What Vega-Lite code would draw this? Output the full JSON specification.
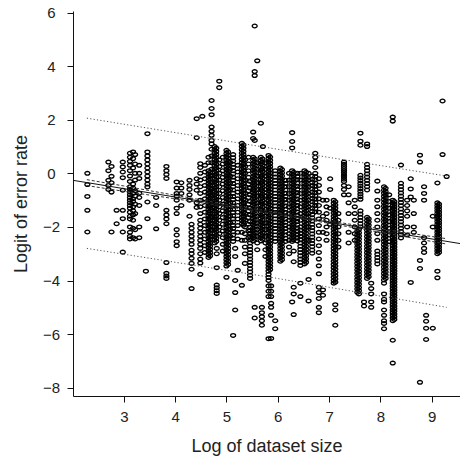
{
"$schema":"https://vega.github.io/schema/vega-lite/v6.json",
"width":387,"height":385,
"autosize":{"type":"none"},
"padding":{"left":73,"top":11,"right":0,"bottom":60},
"background":"white",
"config":{"view":{"stroke":null},"font":"Liberation Sans"},
"datasets":{
"pts":[
{"x":2.29,"y":0},{"x":2.29,"y":-0.42},{"x":2.29,"y":-0.86},{"x":2.29,"y":-1.38},{"x":2.29,"y":-2.19},
{"x":2.7,"y":0.42},{"x":2.7,"y":0.1},{"x":2.7,"y":-0.26},{"x":2.7,"y":-0.45},{"x":2.7,"y":-0.6},
{"x":2.76,"y":0.26},{"x":2.76,"y":-0.11},{"x":2.76,"y":-0.35},{"x":2.76,"y":-0.7},{"x":2.76,"y":-2.19},
{"x":2.86,"y":-1.38},{"x":2.86,"y":-1.88},
{"x":2.98,"y":0.42},{"x":2.98,"y":0.24},{"x":2.98,"y":0.05},{"x":2.98,"y":-0.16},{"x":2.98,"y":-0.63},{"x":2.98,"y":-1.38},{"x":2.98,"y":-1.69},{"x":2.98,"y":-2.19},{"x":2.98,"y":-2.94},
{"x":3.12,"y":0.75},{"x":3.12,"y":0.6},{"x":3.12,"y":0.45},{"x":3.12,"y":0.3},{"x":3.12,"y":0.1},{"x":3.12,"y":-0.1},{"x":3.12,"y":-0.3},{"x":3.12,"y":-0.5},{"x":3.12,"y":-0.6},{"x":3.12,"y":-0.7},{"x":3.12,"y":-0.8},{"x":3.12,"y":-0.9},{"x":3.12,"y":-1.0},{"x":3.12,"y":-1.1},{"x":3.12,"y":-1.2},{"x":3.12,"y":-1.3},{"x":3.12,"y":-1.45},{"x":3.12,"y":-1.6},{"x":3.12,"y":-1.7},{"x":3.12,"y":-2.0},{"x":3.12,"y":-2.2},{"x":3.12,"y":-2.35},{"x":3.12,"y":-2.45},
{"x":3.18,"y":0.8},{"x":3.18,"y":0.55},{"x":3.18,"y":0.2},{"x":3.18,"y":-0.4},{"x":3.18,"y":-0.55},{"x":3.18,"y":-0.75},{"x":3.18,"y":-0.95},{"x":3.18,"y":-1.05},{"x":3.18,"y":-1.25},{"x":3.18,"y":-1.4},{"x":3.18,"y":-1.55},{"x":3.18,"y":-1.75},{"x":3.18,"y":-2.05},{"x":3.18,"y":-2.4},
{"x":3.22,"y":0.7},{"x":3.22,"y":0.35},{"x":3.22,"y":0},{"x":3.22,"y":-0.25},{"x":3.22,"y":-0.65},{"x":3.22,"y":-0.85},{"x":3.22,"y":-1.15},{"x":3.22,"y":-1.5},{"x":3.22,"y":-2.1},{"x":3.22,"y":-2.45},
{"x":3.3,"y":0.3},{"x":3.3,"y":0},{"x":3.3,"y":-0.19},{"x":3.3,"y":-0.74},{"x":3.3,"y":-0.9},{"x":3.3,"y":-1.2},{"x":3.3,"y":-2.0},{"x":3.3,"y":-2.4},
{"x":3.46,"y":1.48},{"x":3.46,"y":0.8},{"x":3.46,"y":0.65},{"x":3.46,"y":0.5},{"x":3.46,"y":0.35},{"x":3.46,"y":0.2},{"x":3.46,"y":0.05},{"x":3.46,"y":-0.1},{"x":3.46,"y":-0.25},{"x":3.46,"y":-0.4},{"x":3.46,"y":-0.51},{"x":3.46,"y":-1.07},{"x":3.46,"y":-1.69},{"x":3.43,"y":-3.65},
{"x":3.63,"y":-0.9},{"x":3.63,"y":-1.2},{"x":3.63,"y":-2.07},
{"x":3.83,"y":0.26},{"x":3.83,"y":0.1},{"x":3.83,"y":-0.04},{"x":3.83,"y":-0.19},{"x":3.83,"y":-1.38},{"x":3.83,"y":-1.55},{"x":3.83,"y":-1.7},{"x":3.83,"y":-1.88},{"x":3.83,"y":-3.33},{"x":3.83,"y":-3.73},{"x":3.83,"y":-3.83},{"x":3.83,"y":-3.92},
{"x":4.03,"y":-0.32},{"x":4.03,"y":-0.55},{"x":4.03,"y":-0.75},{"x":4.03,"y":-0.85},{"x":4.03,"y":-1.0},{"x":4.03,"y":-1.3},{"x":4.03,"y":-1.5},{"x":4.03,"y":-2.1},{"x":4.03,"y":-2.3},{"x":4.03,"y":-2.55},{"x":4.03,"y":-2.7},
{"x":4.12,"y":-0.35},{"x":4.12,"y":-0.55},{"x":4.12,"y":-0.75},{"x":4.12,"y":-1.2},
{"x":4.28,"y":-0.26},{"x":4.28,"y":-0.45},{"x":4.28,"y":-0.6},{"x":4.28,"y":-0.8},{"x":4.28,"y":-1.0},{"x":4.28,"y":-1.6},
{"x":4.32,"y":-1.9},{"x":4.32,"y":-2.05},{"x":4.32,"y":-2.2},{"x":4.32,"y":-2.35},{"x":4.32,"y":-2.5},{"x":4.32,"y":-2.65},{"x":4.32,"y":-2.87},{"x":4.32,"y":-3.0},{"x":4.32,"y":-3.17},{"x":4.32,"y":-3.36},{"x":4.32,"y":-3.58},{"x":4.32,"y":-4.3},
{"x":4.42,"y":2.04},{"x":4.42,"y":1.33},{"x":4.42,"y":-0.2},{"x":4.42,"y":-0.4},{"x":4.42,"y":-0.63},{"x":4.42,"y":-1.1},{"x":4.42,"y":-1.27},
{"x":4.49,"y":0.36},{"x":4.49,"y":0.22},{"x":4.49,"y":0},{"x":4.49,"y":-0.25},{"x":4.49,"y":-0.5},{"x":4.49,"y":-0.75},{"x":4.49,"y":-1.0},{"x":4.49,"y":-1.25},{"x":4.49,"y":-1.5},{"x":4.49,"y":-1.75},{"x":4.49,"y":-1.9},{"x":4.49,"y":-2.05},{"x":4.49,"y":-2.2},{"x":4.49,"y":-2.35},{"x":4.49,"y":-2.5},{"x":4.49,"y":-2.65},{"x":4.49,"y":-2.8},{"x":4.49,"y":-3.0},{"x":4.49,"y":-3.2},{"x":4.49,"y":-3.35},{"x":4.49,"y":-3.77},
{"x":4.53,"y":2.13},
{"x":4.58,"y":0.3},{"x":4.58,"y":0.05},{"x":4.58,"y":-0.2},{"x":4.58,"y":-0.45},{"x":4.58,"y":-0.7},{"x":4.58,"y":-0.95},{"x":4.58,"y":-1.2},{"x":4.58,"y":-1.45},{"x":4.58,"y":-1.7},{"x":4.58,"y":-1.95},{"x":4.58,"y":-2.2},{"x":4.58,"y":-2.45},{"x":4.58,"y":-2.7},{"x":4.58,"y":-2.95},
{"x":4.65,"y":0.6},{"x":4.65,"y":0.4},{"x":4.65,"y":0.1},{"x":4.65,"y":-0.02},{"x":4.65,"y":-0.14},{"x":4.65,"y":-0.26},{"x":4.65,"y":-0.38},{"x":4.65,"y":-0.5},{"x":4.65,"y":-0.62},{"x":4.65,"y":-0.74},{"x":4.65,"y":-0.86},{"x":4.65,"y":-0.98},{"x":4.65,"y":-1.1},{"x":4.65,"y":-1.22},{"x":4.65,"y":-1.34},{"x":4.65,"y":-1.46},{"x":4.65,"y":-1.58},{"x":4.65,"y":-1.7},{"x":4.65,"y":-1.82},{"x":4.65,"y":-1.94},{"x":4.65,"y":-2.06},{"x":4.65,"y":-2.18},{"x":4.65,"y":-2.3},{"x":4.65,"y":-2.42},{"x":4.65,"y":-2.54},{"x":4.65,"y":-2.66},{"x":4.65,"y":-2.78},{"x":4.65,"y":-2.9},{"x":4.65,"y":-3.02},{"x":4.65,"y":-3.14},
{"x":4.68,"y":0.04},{"x":4.68,"y":-0.08},{"x":4.68,"y":-0.2},{"x":4.68,"y":-0.32},{"x":4.68,"y":-0.44},{"x":4.68,"y":-0.56},{"x":4.68,"y":-0.68},{"x":4.68,"y":-0.8},{"x":4.68,"y":-0.92},{"x":4.68,"y":-1.04},{"x":4.68,"y":-1.16},{"x":4.68,"y":-1.28},{"x":4.68,"y":-1.4},{"x":4.68,"y":-1.52},{"x":4.68,"y":-1.64},{"x":4.68,"y":-1.76},{"x":4.68,"y":-1.88},{"x":4.68,"y":-2.0},{"x":4.68,"y":-2.12},{"x":4.68,"y":-2.24},{"x":4.68,"y":-2.36},{"x":4.68,"y":-2.48},{"x":4.68,"y":-2.6},{"x":4.68,"y":-2.72},{"x":4.68,"y":-2.84},{"x":4.68,"y":-2.96},{"x":4.68,"y":-3.08},
{"x":4.71,"y":2.72},{"x":4.71,"y":2.42},{"x":4.71,"y":2.19},{"x":4.71,"y":1.73},{"x":4.71,"y":1.57},{"x":4.71,"y":1.42},{"x":4.71,"y":1.23},{"x":4.71,"y":1.1},{"x":4.71,"y":0.9},{"x":4.71,"y":0.65},{"x":4.71,"y":0.4},{"x":4.71,"y":0.15},{"x":4.71,"y":-0.1},{"x":4.71,"y":-0.35},{"x":4.71,"y":-0.6},{"x":4.71,"y":-0.85},{"x":4.71,"y":-1.1},{"x":4.71,"y":-1.35},{"x":4.71,"y":-1.6},{"x":4.71,"y":-1.85},{"x":4.71,"y":-2.1},{"x":4.71,"y":-2.35},
{"x":4.77,"y":1.0},{"x":4.77,"y":0.88},{"x":4.77,"y":0.76},{"x":4.77,"y":0.64},{"x":4.77,"y":0.52},{"x":4.77,"y":0.4},{"x":4.77,"y":0.28},{"x":4.77,"y":0.16},{"x":4.77,"y":0.04},{"x":4.77,"y":-0.08},{"x":4.77,"y":-0.2},{"x":4.77,"y":-0.32},{"x":4.77,"y":-0.44},{"x":4.77,"y":-0.56},{"x":4.77,"y":-0.68},{"x":4.77,"y":-0.8},{"x":4.77,"y":-0.92},{"x":4.77,"y":-1.04},{"x":4.77,"y":-1.16},{"x":4.77,"y":-1.28},{"x":4.77,"y":-1.4},{"x":4.77,"y":-1.52},{"x":4.77,"y":-1.64},{"x":4.77,"y":-1.76},{"x":4.77,"y":-1.88},{"x":4.77,"y":-2.0},{"x":4.77,"y":-2.12},{"x":4.77,"y":-2.24},{"x":4.77,"y":-2.36},{"x":4.77,"y":-2.48},{"x":4.77,"y":-2.6},
{"x":4.8,"y":0.94},{"x":4.8,"y":0.82},{"x":4.8,"y":0.7},{"x":4.8,"y":0.58},{"x":4.8,"y":0.46},{"x":4.8,"y":0.34},{"x":4.8,"y":0.22},{"x":4.8,"y":0.1},{"x":4.8,"y":-0.02},{"x":4.8,"y":-0.14},{"x":4.8,"y":-0.26},{"x":4.8,"y":-0.38},{"x":4.8,"y":-0.5},{"x":4.8,"y":-0.62},{"x":4.8,"y":-0.74},{"x":4.8,"y":-0.86},{"x":4.8,"y":-0.98},{"x":4.8,"y":-1.1},{"x":4.8,"y":-1.22},{"x":4.8,"y":-1.34},{"x":4.8,"y":-1.46},{"x":4.8,"y":-1.58},{"x":4.8,"y":-1.7},{"x":4.8,"y":-1.82},{"x":4.8,"y":-1.94},{"x":4.8,"y":-2.06},{"x":4.8,"y":-2.18},{"x":4.8,"y":-2.3},{"x":4.8,"y":-2.42},{"x":4.8,"y":-2.54},
{"x":4.81,"y":-2.8},{"x":4.81,"y":-3.0},{"x":4.81,"y":-3.52},{"x":4.81,"y":-4.17},{"x":4.81,"y":-4.27},{"x":4.81,"y":-4.38},{"x":4.81,"y":-4.48},
{"x":4.86,"y":3.44},{"x":4.86,"y":3.2},{"x":4.86,"y":0.5},{"x":4.86,"y":0.25},{"x":4.86,"y":0},{"x":4.86,"y":-0.25},{"x":4.86,"y":-0.5},{"x":4.86,"y":-0.75},{"x":4.86,"y":-1.0},{"x":4.86,"y":-1.25},{"x":4.86,"y":-1.5},{"x":4.86,"y":-1.75},{"x":4.86,"y":-2.0},{"x":4.86,"y":-2.25},
{"x":4.93,"y":0.6},{"x":4.93,"y":0.35},{"x":4.93,"y":0.1},{"x":4.93,"y":-0.15},{"x":4.93,"y":-0.4},{"x":4.93,"y":-0.65},{"x":4.93,"y":-0.9},{"x":4.93,"y":-1.15},{"x":4.93,"y":-1.4},{"x":4.93,"y":-1.65},{"x":4.93,"y":-1.9},{"x":4.93,"y":-2.15},{"x":4.93,"y":-2.4},{"x":4.93,"y":-2.65},{"x":4.93,"y":-2.9},
{"x":5.0,"y":0.86},{"x":5.0,"y":0.74},{"x":5.0,"y":0.62},{"x":5.0,"y":0.5},{"x":5.0,"y":0.38},{"x":5.0,"y":0.26},{"x":5.0,"y":0.14},{"x":5.0,"y":0.02},{"x":5.0,"y":-0.1},{"x":5.0,"y":-0.22},{"x":5.0,"y":-0.34},{"x":5.0,"y":-0.46},{"x":5.0,"y":-0.58},{"x":5.0,"y":-0.7},{"x":5.0,"y":-0.82},{"x":5.0,"y":-0.94},{"x":5.0,"y":-1.06},{"x":5.0,"y":-1.18},{"x":5.0,"y":-1.3},{"x":5.0,"y":-1.42},{"x":5.0,"y":-1.54},{"x":5.0,"y":-1.66},{"x":5.0,"y":-1.78},{"x":5.0,"y":-1.9},{"x":5.0,"y":-2.02},{"x":5.0,"y":-2.14},{"x":5.0,"y":-2.26},{"x":5.0,"y":-2.38},{"x":5.0,"y":-2.5},{"x":5.0,"y":-2.62},{"x":5.0,"y":-2.74},{"x":5.0,"y":-2.86},{"x":5.0,"y":-2.98},{"x":5.0,"y":-3.1},{"x":5.0,"y":-3.22},{"x":5.0,"y":-3.34},{"x":5.0,"y":-3.46},{"x":5.0,"y":-3.88},
{"x":5.03,"y":0.8},{"x":5.03,"y":0.68},{"x":5.03,"y":0.56},{"x":5.03,"y":0.44},{"x":5.03,"y":0.32},{"x":5.03,"y":0.2},{"x":5.03,"y":0.08},{"x":5.03,"y":-0.04},{"x":5.03,"y":-0.16},{"x":5.03,"y":-0.28},{"x":5.03,"y":-0.4},{"x":5.03,"y":-0.52},{"x":5.03,"y":-0.64},{"x":5.03,"y":-0.76},{"x":5.03,"y":-0.88},{"x":5.03,"y":-1.0},{"x":5.03,"y":-1.12},{"x":5.03,"y":-1.24},{"x":5.03,"y":-1.36},{"x":5.03,"y":-1.48},{"x":5.03,"y":-1.6},{"x":5.03,"y":-1.72},{"x":5.03,"y":-1.84},{"x":5.03,"y":-1.96},{"x":5.03,"y":-2.08},{"x":5.03,"y":-2.2},{"x":5.03,"y":-2.32},{"x":5.03,"y":-2.44},{"x":5.03,"y":-2.56},{"x":5.03,"y":-2.68},{"x":5.03,"y":-2.8},{"x":5.03,"y":-2.92},{"x":5.03,"y":-3.04},{"x":5.03,"y":-3.16},{"x":5.03,"y":-3.28},{"x":5.03,"y":-3.4},
{"x":5.07,"y":0.4},{"x":5.07,"y":0.15},{"x":5.07,"y":-0.1},{"x":5.07,"y":-0.35},{"x":5.07,"y":-0.6},{"x":5.07,"y":-0.85},{"x":5.07,"y":-1.1},{"x":5.07,"y":-1.35},{"x":5.07,"y":-1.6},{"x":5.07,"y":-1.85},{"x":5.07,"y":-2.1},{"x":5.07,"y":-2.35},
{"x":5.13,"y":0.7},{"x":5.13,"y":0.58},{"x":5.13,"y":0.46},{"x":5.13,"y":0.34},{"x":5.13,"y":0.22},{"x":5.13,"y":0.1},{"x":5.13,"y":-0.02},{"x":5.13,"y":-0.14},{"x":5.13,"y":-0.26},{"x":5.13,"y":-0.38},{"x":5.13,"y":-0.5},{"x":5.13,"y":-0.62},{"x":5.13,"y":-0.74},{"x":5.13,"y":-0.86},{"x":5.13,"y":-0.98},{"x":5.13,"y":-1.1},{"x":5.13,"y":-1.22},{"x":5.13,"y":-1.34},{"x":5.13,"y":-1.46},{"x":5.13,"y":-1.58},{"x":5.13,"y":-1.7},{"x":5.13,"y":-1.82},{"x":5.13,"y":-1.94},{"x":5.13,"y":-2.06},{"x":5.13,"y":-2.18},{"x":5.13,"y":-2.3},{"x":5.13,"y":-2.42},{"x":5.13,"y":-2.54},{"x":5.13,"y":-6.05},
{"x":5.17,"y":-2.8},{"x":5.17,"y":-3.1},{"x":5.17,"y":-4.0},{"x":5.17,"y":-4.45},{"x":5.17,"y":-5.1},
{"x":5.22,"y":0.3},{"x":5.22,"y":0.05},{"x":5.22,"y":-0.2},{"x":5.22,"y":-0.45},{"x":5.22,"y":-0.7},{"x":5.22,"y":-0.95},{"x":5.22,"y":-1.2},{"x":5.22,"y":-1.45},{"x":5.22,"y":-1.7},{"x":5.22,"y":-1.95},{"x":5.22,"y":-2.2},{"x":5.22,"y":-2.45},{"x":5.22,"y":-3.62},
{"x":5.3,"y":1.12},{"x":5.3,"y":1.0},{"x":5.3,"y":0.88},{"x":5.3,"y":0.76},{"x":5.3,"y":0.64},{"x":5.3,"y":0.52},{"x":5.3,"y":0.4},{"x":5.3,"y":0.28},{"x":5.3,"y":0.16},{"x":5.3,"y":0.04},{"x":5.3,"y":-0.08},{"x":5.3,"y":-0.2},{"x":5.3,"y":-0.32},{"x":5.3,"y":-0.44},{"x":5.3,"y":-0.56},{"x":5.3,"y":-0.68},{"x":5.3,"y":-0.8},{"x":5.3,"y":-0.92},{"x":5.3,"y":-1.04},{"x":5.3,"y":-1.16},{"x":5.3,"y":-1.28},{"x":5.3,"y":-1.4},{"x":5.3,"y":-1.52},{"x":5.3,"y":-1.64},{"x":5.3,"y":-1.76},{"x":5.3,"y":-1.88},{"x":5.3,"y":-2.2},{"x":5.3,"y":-2.5},{"x":5.3,"y":-4.18},
{"x":5.33,"y":1.06},{"x":5.33,"y":0.94},{"x":5.33,"y":0.82},{"x":5.33,"y":0.7},{"x":5.33,"y":0.58},{"x":5.33,"y":0.46},{"x":5.33,"y":0.34},{"x":5.33,"y":0.22},{"x":5.33,"y":0.1},{"x":5.33,"y":-0.02},{"x":5.33,"y":-0.14},{"x":5.33,"y":-0.26},{"x":5.33,"y":-0.38},{"x":5.33,"y":-0.5},{"x":5.33,"y":-0.62},{"x":5.33,"y":-0.74},{"x":5.33,"y":-0.86},{"x":5.33,"y":-0.98},{"x":5.33,"y":-1.1},{"x":5.33,"y":-1.22},{"x":5.33,"y":-1.34},{"x":5.33,"y":-1.46},{"x":5.33,"y":-1.58},{"x":5.33,"y":-1.7},{"x":5.33,"y":-1.82},{"x":5.33,"y":-1.94},
{"x":5.36,"y":0.5},{"x":5.36,"y":0.25},{"x":5.36,"y":0},{"x":5.36,"y":-0.25},{"x":5.36,"y":-0.5},{"x":5.36,"y":-0.75},{"x":5.36,"y":-1.0},{"x":5.36,"y":-1.25},{"x":5.36,"y":-1.5},{"x":5.36,"y":-1.75},{"x":5.36,"y":-2.0},{"x":5.36,"y":-2.25},{"x":5.36,"y":-2.5},{"x":5.36,"y":-2.75},{"x":5.36,"y":-3.0},{"x":5.36,"y":-3.36},
{"x":5.43,"y":0.6},{"x":5.43,"y":0.35},{"x":5.43,"y":0.1},{"x":5.43,"y":-0.15},{"x":5.43,"y":-0.4},{"x":5.43,"y":-0.65},{"x":5.43,"y":-0.9},{"x":5.43,"y":-1.15},{"x":5.43,"y":-1.4},{"x":5.43,"y":-1.65},{"x":5.43,"y":-1.9},{"x":5.43,"y":-2.15},{"x":5.43,"y":-2.4},
{"x":5.46,"y":-0.3},{"x":5.46,"y":-0.55},{"x":5.46,"y":-0.8},{"x":5.46,"y":-1.05},{"x":5.46,"y":-1.3},{"x":5.46,"y":-1.55},{"x":5.46,"y":-1.8},{"x":5.46,"y":-2.0},{"x":5.46,"y":-2.12},{"x":5.46,"y":-2.24},{"x":5.46,"y":-2.36},{"x":5.46,"y":-2.48},{"x":5.46,"y":-2.6},{"x":5.46,"y":-2.72},{"x":5.46,"y":-2.84},{"x":5.46,"y":-2.96},{"x":5.46,"y":-3.08},{"x":5.46,"y":-3.2},{"x":5.46,"y":-3.32},{"x":5.46,"y":-3.44},{"x":5.46,"y":-3.56},{"x":5.46,"y":-3.68},{"x":5.46,"y":-3.8},{"x":5.46,"y":-3.92},
{"x":5.52,"y":1.54},{"x":5.52,"y":1.3},{"x":5.52,"y":0.6},{"x":5.52,"y":0.48},{"x":5.52,"y":0.36},{"x":5.52,"y":0.24},{"x":5.52,"y":0.12},{"x":5.52,"y":0},{"x":5.52,"y":-0.12},{"x":5.52,"y":-0.24},{"x":5.52,"y":-0.36},{"x":5.52,"y":-0.48},{"x":5.52,"y":-0.6},{"x":5.52,"y":-0.72},{"x":5.52,"y":-0.84},{"x":5.52,"y":-0.96},{"x":5.52,"y":-1.08},{"x":5.52,"y":-1.2},{"x":5.52,"y":-1.32},{"x":5.52,"y":-1.44},{"x":5.52,"y":-1.56},{"x":5.52,"y":-1.68},{"x":5.52,"y":-1.8},{"x":5.52,"y":-1.92},{"x":5.52,"y":-2.04},{"x":5.52,"y":-2.16},{"x":5.52,"y":-2.28},{"x":5.52,"y":-2.4},{"x":5.52,"y":-2.52},
{"x":5.55,"y":5.5},{"x":5.55,"y":3.8},{"x":5.55,"y":3.65},{"x":5.55,"y":1.23},{"x":5.55,"y":-5.0},{"x":5.55,"y":-5.4},
{"x":5.55,"y":0.54},{"x":5.55,"y":0.42},{"x":5.55,"y":0.3},{"x":5.55,"y":0.18},{"x":5.55,"y":0.06},{"x":5.55,"y":-0.06},{"x":5.55,"y":-0.18},{"x":5.55,"y":-0.3},{"x":5.55,"y":-0.42},{"x":5.55,"y":-0.54},{"x":5.55,"y":-0.66},{"x":5.55,"y":-0.78},{"x":5.55,"y":-0.9},{"x":5.55,"y":-1.02},{"x":5.55,"y":-1.14},{"x":5.55,"y":-1.26},{"x":5.55,"y":-1.38},{"x":5.55,"y":-1.5},{"x":5.55,"y":-1.62},{"x":5.55,"y":-1.74},{"x":5.55,"y":-1.86},{"x":5.55,"y":-1.98},{"x":5.55,"y":-2.1},{"x":5.55,"y":-2.22},{"x":5.55,"y":-2.34},{"x":5.55,"y":-2.46},
{"x":5.6,"y":4.2},{"x":5.6,"y":0.4},{"x":5.6,"y":0.15},{"x":5.6,"y":-0.1},{"x":5.6,"y":-0.35},{"x":5.6,"y":-0.6},{"x":5.6,"y":-0.85},{"x":5.6,"y":-1.1},{"x":5.6,"y":-1.35},{"x":5.6,"y":-1.6},{"x":5.6,"y":-1.85},{"x":5.6,"y":-2.1},{"x":5.6,"y":-2.35},{"x":5.6,"y":-2.6},{"x":5.6,"y":-2.85},
{"x":5.67,"y":1.87},{"x":5.67,"y":0.6},{"x":5.67,"y":0.48},{"x":5.67,"y":0.36},{"x":5.67,"y":0.24},{"x":5.67,"y":0.12},{"x":5.67,"y":0},{"x":5.67,"y":-0.12},{"x":5.67,"y":-0.24},{"x":5.67,"y":-0.36},{"x":5.67,"y":-0.48},{"x":5.67,"y":-0.6},{"x":5.67,"y":-0.72},{"x":5.67,"y":-0.84},{"x":5.67,"y":-0.96},{"x":5.67,"y":-1.08},{"x":5.67,"y":-1.2},{"x":5.67,"y":-1.32},{"x":5.67,"y":-1.44},{"x":5.67,"y":-1.56},{"x":5.67,"y":-1.68},{"x":5.67,"y":-1.8},{"x":5.67,"y":-1.92},{"x":5.67,"y":-2.04},{"x":5.67,"y":-2.16},{"x":5.67,"y":-2.28},{"x":5.67,"y":-2.4},{"x":5.67,"y":-2.52},
{"x":5.7,"y":0.54},{"x":5.7,"y":0.42},{"x":5.7,"y":0.3},{"x":5.7,"y":0.18},{"x":5.7,"y":0.06},{"x":5.7,"y":-0.06},{"x":5.7,"y":-0.18},{"x":5.7,"y":-0.3},{"x":5.7,"y":-0.42},{"x":5.7,"y":-0.54},{"x":5.7,"y":-0.66},{"x":5.7,"y":-0.78},{"x":5.7,"y":-0.9},{"x":5.7,"y":-1.02},{"x":5.7,"y":-1.14},{"x":5.7,"y":-1.26},{"x":5.7,"y":-1.38},{"x":5.7,"y":-1.5},{"x":5.7,"y":-1.62},{"x":5.7,"y":-1.74},{"x":5.7,"y":-1.86},{"x":5.7,"y":-1.98},{"x":5.7,"y":-2.1},{"x":5.7,"y":-2.22},{"x":5.7,"y":-2.34},{"x":5.7,"y":-2.46},
{"x":5.69,"y":-5.0},{"x":5.69,"y":-5.2},{"x":5.69,"y":-5.35},{"x":5.69,"y":-5.5},{"x":5.69,"y":-5.67},
{"x":5.71,"y":1.0},
{"x":5.76,"y":0.4},{"x":5.76,"y":0.15},{"x":5.76,"y":-0.1},{"x":5.76,"y":-0.35},{"x":5.76,"y":-0.6},{"x":5.76,"y":-0.85},{"x":5.76,"y":-1.1},{"x":5.76,"y":-1.35},{"x":5.76,"y":-1.6},{"x":5.76,"y":-1.85},{"x":5.76,"y":-2.1},{"x":5.76,"y":-2.35},{"x":5.76,"y":-2.6},{"x":5.76,"y":-2.85},{"x":5.76,"y":-3.1},
{"x":5.82,"y":0.67},{"x":5.82,"y":0.55},{"x":5.82,"y":0.43},{"x":5.82,"y":0.31},{"x":5.82,"y":0.19},{"x":5.82,"y":0.07},{"x":5.82,"y":-0.05},{"x":5.82,"y":-0.17},{"x":5.82,"y":-0.29},{"x":5.82,"y":-0.41},{"x":5.82,"y":-0.53},{"x":5.82,"y":-0.65},{"x":5.82,"y":-0.77},{"x":5.82,"y":-0.89},{"x":5.82,"y":-1.01},{"x":5.82,"y":-1.13},{"x":5.82,"y":-1.25},{"x":5.82,"y":-1.37},{"x":5.82,"y":-1.49},{"x":5.82,"y":-1.61},{"x":5.82,"y":-1.73},{"x":5.82,"y":-1.85},{"x":5.82,"y":-1.97},{"x":5.82,"y":-2.09},{"x":5.82,"y":-2.21},{"x":5.82,"y":-2.33},{"x":5.82,"y":-2.45},{"x":5.82,"y":-2.57},{"x":5.82,"y":-2.69},{"x":5.82,"y":-2.81},{"x":5.82,"y":-2.93},{"x":5.82,"y":-3.05},{"x":5.82,"y":-3.17},{"x":5.82,"y":-3.29},{"x":5.82,"y":-3.41},{"x":5.82,"y":-3.53},{"x":5.82,"y":-3.65},{"x":5.82,"y":-3.77},{"x":5.82,"y":-3.89},{"x":5.82,"y":-4.0},{"x":5.82,"y":-4.2},{"x":5.82,"y":-4.4},{"x":5.82,"y":-4.6},{"x":5.82,"y":-6.17},
{"x":5.85,"y":0.61},{"x":5.85,"y":0.49},{"x":5.85,"y":0.37},{"x":5.85,"y":0.25},{"x":5.85,"y":0.13},{"x":5.85,"y":0.01},{"x":5.85,"y":-0.11},{"x":5.85,"y":-0.23},{"x":5.85,"y":-0.35},{"x":5.85,"y":-0.47},{"x":5.85,"y":-0.59},{"x":5.85,"y":-0.71},{"x":5.85,"y":-0.83},{"x":5.85,"y":-0.95},{"x":5.85,"y":-1.07},{"x":5.85,"y":-1.19},{"x":5.85,"y":-1.31},{"x":5.85,"y":-1.43},{"x":5.85,"y":-1.55},{"x":5.85,"y":-1.67},{"x":5.85,"y":-1.79},{"x":5.85,"y":-1.91},{"x":5.85,"y":-2.03},{"x":5.85,"y":-2.15},{"x":5.85,"y":-2.27},{"x":5.85,"y":-2.39},{"x":5.85,"y":-2.51},{"x":5.85,"y":-2.63},{"x":5.85,"y":-2.75},{"x":5.85,"y":-2.87},{"x":5.85,"y":-2.99},{"x":5.85,"y":-3.11},{"x":5.85,"y":-3.23},{"x":5.85,"y":-3.35},{"x":5.85,"y":-3.47},{"x":5.85,"y":-3.59},
{"x":5.87,"y":-4.2},{"x":5.87,"y":-4.4},{"x":5.87,"y":-4.6},{"x":5.87,"y":-4.85},{"x":5.87,"y":-5.0},{"x":5.87,"y":-5.3},{"x":5.87,"y":-6.16},
{"x":5.95,"y":0.1},{"x":5.95,"y":-0.02},{"x":5.95,"y":-0.14},{"x":5.95,"y":-0.26},{"x":5.95,"y":-0.38},{"x":5.95,"y":-0.5},{"x":5.95,"y":-0.62},{"x":5.95,"y":-0.74},{"x":5.95,"y":-0.86},{"x":5.95,"y":-0.98},{"x":5.95,"y":-1.1},{"x":5.95,"y":-1.22},{"x":5.95,"y":-1.34},{"x":5.95,"y":-1.46},{"x":5.95,"y":-1.58},{"x":5.95,"y":-1.7},{"x":5.95,"y":-1.82},{"x":5.95,"y":-1.94},{"x":5.95,"y":-2.06},{"x":5.95,"y":-2.18},{"x":5.95,"y":-2.3},{"x":5.95,"y":-2.42},{"x":5.95,"y":-2.54},{"x":5.95,"y":-5.5},{"x":5.95,"y":-5.8},
{"x":6.05,"y":0.2},{"x":6.05,"y":0.08},{"x":6.05,"y":-0.04},{"x":6.05,"y":-0.16},{"x":6.05,"y":-0.28},{"x":6.05,"y":-0.4},{"x":6.05,"y":-0.52},{"x":6.05,"y":-0.64},{"x":6.05,"y":-0.76},{"x":6.05,"y":-0.88},{"x":6.05,"y":-1.0},{"x":6.05,"y":-1.12},{"x":6.05,"y":-1.24},{"x":6.05,"y":-1.36},{"x":6.05,"y":-1.48},{"x":6.05,"y":-1.6},{"x":6.05,"y":-1.72},{"x":6.05,"y":-1.84},{"x":6.05,"y":-1.96},{"x":6.05,"y":-2.08},{"x":6.05,"y":-2.2},{"x":6.05,"y":-2.32},{"x":6.05,"y":-2.44},{"x":6.05,"y":-2.56},{"x":6.05,"y":-2.68},{"x":6.05,"y":-2.8},{"x":6.05,"y":-2.92},{"x":6.05,"y":-3.04},{"x":6.05,"y":-3.16},{"x":6.05,"y":-3.28},
{"x":6.08,"y":0.14},{"x":6.08,"y":0.02},{"x":6.08,"y":-0.1},{"x":6.08,"y":-0.22},{"x":6.08,"y":-0.34},{"x":6.08,"y":-0.46},{"x":6.08,"y":-0.58},{"x":6.08,"y":-0.7},{"x":6.08,"y":-0.82},{"x":6.08,"y":-0.94},{"x":6.08,"y":-1.06},{"x":6.08,"y":-1.18},{"x":6.08,"y":-1.3},{"x":6.08,"y":-1.42},{"x":6.08,"y":-1.54},{"x":6.08,"y":-1.66},{"x":6.08,"y":-1.78},{"x":6.08,"y":-1.9},{"x":6.08,"y":-2.02},{"x":6.08,"y":-2.14},{"x":6.08,"y":-2.26},{"x":6.08,"y":-2.38},{"x":6.08,"y":-2.5},{"x":6.08,"y":-2.62},{"x":6.08,"y":-2.74},{"x":6.08,"y":-2.86},{"x":6.08,"y":-2.98},{"x":6.08,"y":-3.1},{"x":6.08,"y":-3.22},
{"x":6.15,"y":-0.26},{"x":6.15,"y":-0.38},{"x":6.15,"y":-0.5},{"x":6.15,"y":-0.62},{"x":6.15,"y":-0.74},{"x":6.15,"y":-0.86},{"x":6.15,"y":-0.98},{"x":6.15,"y":-1.1},{"x":6.15,"y":-1.22},{"x":6.15,"y":-1.34},{"x":6.15,"y":-1.46},{"x":6.15,"y":-1.58},{"x":6.15,"y":-1.7},{"x":6.15,"y":-1.82},{"x":6.15,"y":-1.94},{"x":6.15,"y":-2.06},{"x":6.15,"y":-2.18},{"x":6.15,"y":-2.3},{"x":6.15,"y":-2.42},{"x":6.15,"y":-2.54},
{"x":6.22,"y":0},{"x":6.22,"y":-0.25},{"x":6.22,"y":-0.5},{"x":6.22,"y":-0.75},{"x":6.22,"y":-1.0},{"x":6.22,"y":-1.25},{"x":6.22,"y":-1.5},{"x":6.22,"y":-1.75},{"x":6.22,"y":-2.0},{"x":6.22,"y":-2.25},{"x":6.22,"y":-2.5},{"x":6.22,"y":-2.75},{"x":6.22,"y":-3.0},
{"x":6.28,"y":1.52},{"x":6.28,"y":1.19},{"x":6.28,"y":0.95},{"x":6.28,"y":0.1},{"x":6.28,"y":-0.02},{"x":6.28,"y":-0.14},{"x":6.28,"y":-0.26},{"x":6.28,"y":-0.38},{"x":6.28,"y":-0.5},{"x":6.28,"y":-0.62},{"x":6.28,"y":-0.74},{"x":6.28,"y":-0.86},{"x":6.28,"y":-0.98},{"x":6.28,"y":-1.1},{"x":6.28,"y":-1.22},{"x":6.28,"y":-1.34},{"x":6.28,"y":-1.46},{"x":6.28,"y":-1.58},{"x":6.28,"y":-1.7},{"x":6.28,"y":-1.82},{"x":6.28,"y":-1.94},{"x":6.28,"y":-2.06},{"x":6.28,"y":-2.18},{"x":6.28,"y":-2.3},{"x":6.28,"y":-2.42},{"x":6.28,"y":-2.54},{"x":6.28,"y":-4.8},
{"x":6.31,"y":0.04},{"x":6.31,"y":-0.08},{"x":6.31,"y":-0.2},{"x":6.31,"y":-0.32},{"x":6.31,"y":-0.44},{"x":6.31,"y":-0.56},{"x":6.31,"y":-0.68},{"x":6.31,"y":-0.8},{"x":6.31,"y":-0.92},{"x":6.31,"y":-1.04},{"x":6.31,"y":-1.16},{"x":6.31,"y":-1.28},{"x":6.31,"y":-1.4},{"x":6.31,"y":-1.52},{"x":6.31,"y":-1.64},{"x":6.31,"y":-1.76},{"x":6.31,"y":-1.88},{"x":6.31,"y":-2.0},{"x":6.31,"y":-2.12},{"x":6.31,"y":-2.24},{"x":6.31,"y":-2.36},{"x":6.31,"y":-2.48},
{"x":6.31,"y":-2.9},{"x":6.31,"y":-3.3},{"x":6.31,"y":-4.25},{"x":6.31,"y":-4.5},{"x":6.31,"y":-5.27},
{"x":6.38,"y":0},{"x":6.38,"y":-0.12},{"x":6.38,"y":-0.24},{"x":6.38,"y":-0.36},{"x":6.38,"y":-0.48},{"x":6.38,"y":-0.6},{"x":6.38,"y":-0.72},{"x":6.38,"y":-0.84},{"x":6.38,"y":-0.96},{"x":6.38,"y":-1.08},{"x":6.38,"y":-1.2},{"x":6.38,"y":-1.32},{"x":6.38,"y":-1.44},{"x":6.38,"y":-1.56},{"x":6.38,"y":-1.68},{"x":6.38,"y":-1.8},{"x":6.38,"y":-1.92},{"x":6.38,"y":-2.04},{"x":6.38,"y":-2.16},{"x":6.38,"y":-2.28},{"x":6.38,"y":-2.4},{"x":6.38,"y":-2.52},
{"x":6.44,"y":0},{"x":6.44,"y":-0.25},{"x":6.44,"y":-0.5},{"x":6.44,"y":-0.75},{"x":6.44,"y":-1.0},{"x":6.44,"y":-1.25},{"x":6.44,"y":-1.5},{"x":6.44,"y":-1.75},{"x":6.44,"y":-2.0},{"x":6.44,"y":-2.12},{"x":6.44,"y":-2.24},{"x":6.44,"y":-2.36},{"x":6.44,"y":-2.48},{"x":6.44,"y":-2.6},{"x":6.44,"y":-2.72},{"x":6.44,"y":-2.84},{"x":6.44,"y":-2.96},{"x":6.44,"y":-3.08},{"x":6.44,"y":-3.2},{"x":6.44,"y":-3.32},{"x":6.44,"y":-3.44},{"x":6.44,"y":-4.1},{"x":6.44,"y":-4.6},
{"x":6.52,"y":0.1},{"x":6.52,"y":-0.02},{"x":6.52,"y":-0.14},{"x":6.52,"y":-0.26},{"x":6.52,"y":-0.38},{"x":6.52,"y":-0.5},{"x":6.52,"y":-0.62},{"x":6.52,"y":-0.74},{"x":6.52,"y":-0.86},{"x":6.52,"y":-0.98},{"x":6.52,"y":-1.1},{"x":6.52,"y":-1.22},{"x":6.52,"y":-1.34},{"x":6.52,"y":-1.46},{"x":6.52,"y":-1.58},{"x":6.52,"y":-1.7},{"x":6.52,"y":-1.82},{"x":6.52,"y":-1.94},{"x":6.52,"y":-2.06},{"x":6.52,"y":-2.18},{"x":6.52,"y":-2.3},{"x":6.52,"y":-2.42},{"x":6.52,"y":-2.54},{"x":6.52,"y":-2.66},{"x":6.52,"y":-2.78},{"x":6.52,"y":-2.9},{"x":6.52,"y":-3.02},{"x":6.52,"y":-3.14},{"x":6.52,"y":-3.26},{"x":6.52,"y":-3.38},
{"x":6.55,"y":0.04},{"x":6.55,"y":-0.08},{"x":6.55,"y":-0.2},{"x":6.55,"y":-0.32},{"x":6.55,"y":-0.44},{"x":6.55,"y":-0.56},{"x":6.55,"y":-0.68},{"x":6.55,"y":-0.8},{"x":6.55,"y":-0.92},{"x":6.55,"y":-1.04},{"x":6.55,"y":-1.16},{"x":6.55,"y":-1.28},{"x":6.55,"y":-1.4},{"x":6.55,"y":-1.52},{"x":6.55,"y":-1.64},{"x":6.55,"y":-1.76},{"x":6.55,"y":-1.88},{"x":6.55,"y":-2.0},{"x":6.55,"y":-2.12},{"x":6.55,"y":-2.24},{"x":6.55,"y":-2.36},{"x":6.55,"y":-2.48},{"x":6.55,"y":-2.6},{"x":6.55,"y":-2.72},{"x":6.55,"y":-2.84},{"x":6.55,"y":-2.96},{"x":6.55,"y":-3.08},{"x":6.55,"y":-3.2},{"x":6.55,"y":-3.32},
{"x":6.6,"y":0},{"x":6.6,"y":-0.25},{"x":6.6,"y":-0.5},{"x":6.6,"y":-0.75},{"x":6.6,"y":-1.0},{"x":6.6,"y":-1.25},{"x":6.6,"y":-1.5},{"x":6.6,"y":-1.75},{"x":6.6,"y":-2.0},{"x":6.6,"y":-2.5},{"x":6.6,"y":-3.96},{"x":6.6,"y":-4.76},
{"x":6.67,"y":-0.1},{"x":6.67,"y":-0.22},{"x":6.67,"y":-0.34},{"x":6.67,"y":-0.46},{"x":6.67,"y":-0.58},{"x":6.67,"y":-0.7},{"x":6.67,"y":-0.82},{"x":6.67,"y":-0.94},{"x":6.67,"y":-1.06},{"x":6.67,"y":-1.18},{"x":6.67,"y":-1.3},{"x":6.67,"y":-1.42},{"x":6.67,"y":-1.54},{"x":6.67,"y":-1.66},{"x":6.67,"y":-1.78},{"x":6.67,"y":-1.9},{"x":6.67,"y":-2.02},{"x":6.67,"y":-2.14},{"x":6.67,"y":-2.26},{"x":6.67,"y":-2.38},{"x":6.67,"y":-2.5},{"x":6.67,"y":-2.62},{"x":6.67,"y":-2.74},{"x":6.67,"y":-2.86},{"x":6.67,"y":-2.98},
{"x":6.73,"y":0.75},{"x":6.73,"y":0.6},{"x":6.73,"y":0.45},{"x":6.73,"y":0.22},{"x":6.73,"y":0},{"x":6.73,"y":-0.12},{"x":6.73,"y":-0.24},{"x":6.73,"y":-0.36},{"x":6.73,"y":-0.48},{"x":6.73,"y":-0.6},{"x":6.73,"y":-0.72},{"x":6.73,"y":-0.84},{"x":6.73,"y":-0.96},{"x":6.73,"y":-1.08},{"x":6.73,"y":-1.2},{"x":6.73,"y":-1.32},{"x":6.73,"y":-1.44},
{"x":6.8,"y":-0.2},{"x":6.8,"y":-0.45},{"x":6.8,"y":-0.7},{"x":6.8,"y":-0.95},{"x":6.8,"y":-1.2},{"x":6.8,"y":-1.45},{"x":6.8,"y":-1.7},{"x":6.8,"y":-1.95},{"x":6.8,"y":-2.2},{"x":6.8,"y":-2.45},{"x":6.8,"y":-2.7},{"x":6.8,"y":-2.95},{"x":6.8,"y":-3.2},{"x":6.8,"y":-3.45},{"x":6.8,"y":-3.75},{"x":6.8,"y":-4.25},{"x":6.8,"y":-4.45},{"x":6.8,"y":-4.67},{"x":6.8,"y":-5.0},{"x":6.8,"y":-5.2},
{"x":6.88,"y":-4.35},{"x":6.88,"y":-4.55},{"x":6.88,"y":-1.0},{"x":6.88,"y":-1.6},{"x":6.88,"y":-2.2},
{"x":6.95,"y":-1.0},{"x":6.95,"y":-1.25},{"x":6.95,"y":-1.5},{"x":6.95,"y":-1.75},{"x":6.95,"y":-2.0},{"x":6.95,"y":-2.25},{"x":6.95,"y":-2.5},
{"x":7.02,"y":-0.2},{"x":7.02,"y":-0.6},{"x":7.02,"y":-1.3},{"x":7.02,"y":-1.9},
{"x":7.09,"y":-1.0},{"x":7.09,"y":-1.12},{"x":7.09,"y":-1.24},{"x":7.09,"y":-1.36},{"x":7.09,"y":-1.48},{"x":7.09,"y":-1.6},{"x":7.09,"y":-1.72},{"x":7.09,"y":-1.84},{"x":7.09,"y":-1.96},{"x":7.09,"y":-2.08},{"x":7.09,"y":-2.2},{"x":7.09,"y":-2.32},{"x":7.09,"y":-2.44},{"x":7.09,"y":-2.56},{"x":7.09,"y":-2.68},{"x":7.09,"y":-2.8},{"x":7.09,"y":-2.92},{"x":7.09,"y":-3.04},{"x":7.09,"y":-3.16},{"x":7.09,"y":-3.28},{"x":7.09,"y":-3.4},{"x":7.09,"y":-3.52},{"x":7.09,"y":-3.64},{"x":7.09,"y":-3.76},{"x":7.09,"y":-3.88},{"x":7.09,"y":-4.0},{"x":7.09,"y":-4.1},
{"x":7.12,"y":-1.06},{"x":7.12,"y":-1.18},{"x":7.12,"y":-1.3},{"x":7.12,"y":-1.42},{"x":7.12,"y":-1.54},{"x":7.12,"y":-1.66},{"x":7.12,"y":-1.78},{"x":7.12,"y":-1.9},{"x":7.12,"y":-2.02},{"x":7.12,"y":-2.14},{"x":7.12,"y":-2.26},{"x":7.12,"y":-2.38},{"x":7.12,"y":-2.5},{"x":7.12,"y":-2.62},{"x":7.12,"y":-2.74},{"x":7.12,"y":-2.86},{"x":7.12,"y":-2.98},{"x":7.12,"y":-3.1},{"x":7.12,"y":-3.22},{"x":7.12,"y":-3.34},{"x":7.12,"y":-3.46},{"x":7.12,"y":-3.58},{"x":7.12,"y":-3.7},{"x":7.12,"y":-3.82},{"x":7.12,"y":-3.94},{"x":7.12,"y":-4.06},
{"x":7.12,"y":-4.9},{"x":7.12,"y":-5.1},{"x":7.12,"y":-5.67},
{"x":7.18,"y":-1.5},{"x":7.18,"y":-1.75},{"x":7.18,"y":-2.0},{"x":7.18,"y":-2.25},{"x":7.18,"y":-2.5},{"x":7.18,"y":-2.75},
{"x":7.29,"y":0.42},{"x":7.29,"y":0.34},{"x":7.29,"y":0.26},{"x":7.29,"y":0.18},{"x":7.29,"y":0.1},{"x":7.29,"y":0.02},{"x":7.29,"y":-0.06},{"x":7.29,"y":-0.14},{"x":7.29,"y":-0.22},{"x":7.29,"y":-0.3},{"x":7.29,"y":-0.45},{"x":7.29,"y":-0.6},{"x":7.29,"y":-0.8},
{"x":7.38,"y":-0.5},{"x":7.38,"y":-0.8},{"x":7.38,"y":-1.1},{"x":7.38,"y":-1.5},{"x":7.38,"y":-2.2},{"x":7.38,"y":-2.6},
{"x":7.5,"y":-1.0},{"x":7.5,"y":-1.25},{"x":7.5,"y":-1.5},{"x":7.5,"y":-1.75},{"x":7.5,"y":-2.0},{"x":7.5,"y":-2.25},{"x":7.5,"y":-2.5},
{"x":7.55,"y":-2.16},{"x":7.55,"y":-2.28},{"x":7.55,"y":-2.4},{"x":7.55,"y":-2.52},{"x":7.55,"y":-2.64},{"x":7.55,"y":-2.76},{"x":7.55,"y":-2.88},{"x":7.55,"y":-3.0},{"x":7.55,"y":-3.12},{"x":7.55,"y":-3.24},{"x":7.55,"y":-3.36},{"x":7.55,"y":-3.48},{"x":7.55,"y":-3.6},{"x":7.55,"y":-3.72},{"x":7.55,"y":-3.84},{"x":7.55,"y":-3.96},{"x":7.55,"y":-4.08},{"x":7.55,"y":-4.2},{"x":7.55,"y":-4.32},{"x":7.55,"y":-4.44},
{"x":7.58,"y":-2.1},{"x":7.58,"y":-2.22},{"x":7.58,"y":-2.34},{"x":7.58,"y":-2.46},{"x":7.58,"y":-2.58},{"x":7.58,"y":-2.7},{"x":7.58,"y":-2.82},{"x":7.58,"y":-2.94},{"x":7.58,"y":-3.06},{"x":7.58,"y":-3.18},{"x":7.58,"y":-3.3},{"x":7.58,"y":-3.42},{"x":7.58,"y":-3.54},{"x":7.58,"y":-3.66},{"x":7.58,"y":-3.78},{"x":7.58,"y":-3.9},{"x":7.58,"y":-4.02},{"x":7.58,"y":-4.14},{"x":7.58,"y":-4.26},{"x":7.58,"y":-4.38},{"x":7.58,"y":-4.5},
{"x":7.61,"y":1.5},{"x":7.61,"y":1.2},{"x":7.61,"y":1.05},{"x":7.61,"y":-0.07},{"x":7.61,"y":-0.17},{"x":7.61,"y":-0.27},{"x":7.61,"y":-0.37},{"x":7.61,"y":-0.47},{"x":7.61,"y":-0.57},{"x":7.61,"y":-0.67},{"x":7.61,"y":-0.77},{"x":7.61,"y":-0.87},{"x":7.61,"y":-0.97},{"x":7.61,"y":-1.4},{"x":7.61,"y":-1.52},{"x":7.61,"y":-1.64},{"x":7.61,"y":-1.76},{"x":7.61,"y":-1.88},{"x":7.61,"y":-2.0},
{"x":7.68,"y":-4.8},{"x":7.68,"y":-4.95},
{"x":7.74,"y":1.1},{"x":7.74,"y":1.0},{"x":7.74,"y":0.34},{"x":7.74,"y":0.22},{"x":7.74,"y":0.1},{"x":7.74,"y":-0.02},{"x":7.74,"y":-0.14},{"x":7.74,"y":-0.26},{"x":7.74,"y":-0.38},{"x":7.74,"y":-0.5},{"x":7.74,"y":-0.62},{"x":7.74,"y":-1.64},{"x":7.74,"y":-1.76},{"x":7.74,"y":-1.88},{"x":7.74,"y":-2.0},{"x":7.74,"y":-2.12},{"x":7.74,"y":-2.24},{"x":7.74,"y":-2.36},{"x":7.74,"y":-2.48},{"x":7.74,"y":-2.6},{"x":7.74,"y":-2.72},{"x":7.74,"y":-2.84},{"x":7.74,"y":-2.96},{"x":7.74,"y":-3.08},{"x":7.74,"y":-3.2},{"x":7.74,"y":-3.32},{"x":7.74,"y":-3.44},{"x":7.74,"y":-3.56},{"x":7.74,"y":-3.68},{"x":7.74,"y":-3.8},{"x":7.74,"y":-3.92},
{"x":7.77,"y":-1.7},{"x":7.77,"y":-1.82},{"x":7.77,"y":-1.94},{"x":7.77,"y":-2.06},{"x":7.77,"y":-2.18},{"x":7.77,"y":-2.3},{"x":7.77,"y":-2.42},{"x":7.77,"y":-2.54},{"x":7.77,"y":-2.66},{"x":7.77,"y":-2.78},{"x":7.77,"y":-2.9},{"x":7.77,"y":-3.02},{"x":7.77,"y":-3.14},{"x":7.77,"y":-3.26},{"x":7.77,"y":-3.38},{"x":7.77,"y":-3.5},{"x":7.77,"y":-3.62},{"x":7.77,"y":-3.74},{"x":7.77,"y":-3.86},
{"x":7.82,"y":-4.1},{"x":7.82,"y":-4.3},{"x":7.82,"y":-4.5},{"x":7.82,"y":-4.8},{"x":7.82,"y":-5.0},
{"x":7.94,"y":-0.29},{"x":7.94,"y":-0.66},{"x":7.94,"y":-1.0},{"x":7.94,"y":-1.25},{"x":7.94,"y":-1.5},{"x":7.94,"y":-1.75},{"x":7.94,"y":-2.0},{"x":7.94,"y":-2.25},{"x":7.94,"y":-2.5},{"x":7.94,"y":-2.9},{"x":7.94,"y":-3.02},{"x":7.94,"y":-3.14},{"x":7.94,"y":-3.26},{"x":7.94,"y":-3.38},
{"x":8.07,"y":-0.5},{"x":8.07,"y":-0.62},{"x":8.07,"y":-0.74},{"x":8.07,"y":-0.86},{"x":8.07,"y":-0.98},{"x":8.07,"y":-1.1},{"x":8.07,"y":-1.22},{"x":8.07,"y":-1.34},{"x":8.07,"y":-1.46},{"x":8.07,"y":-1.58},{"x":8.07,"y":-1.7},{"x":8.07,"y":-1.82},{"x":8.07,"y":-1.94},{"x":8.07,"y":-2.06},{"x":8.07,"y":-2.18},{"x":8.07,"y":-2.3},{"x":8.07,"y":-2.42},{"x":8.07,"y":-2.54},{"x":8.07,"y":-2.66},{"x":8.07,"y":-2.78},{"x":8.07,"y":-2.9},{"x":8.07,"y":-3.02},{"x":8.07,"y":-3.14},{"x":8.07,"y":-3.26},{"x":8.07,"y":-3.38},{"x":8.07,"y":-3.5},{"x":8.07,"y":-3.62},{"x":8.07,"y":-3.74},{"x":8.07,"y":-3.86},{"x":8.07,"y":-3.98},{"x":8.07,"y":-4.1},{"x":8.07,"y":-4.5},{"x":8.07,"y":-4.7},{"x":8.07,"y":-4.8},{"x":8.07,"y":-5.1},{"x":8.07,"y":-5.3},{"x":8.07,"y":-5.5},{"x":8.07,"y":-5.6},{"x":8.07,"y":-5.8},
{"x":8.1,"y":-0.56},{"x":8.1,"y":-0.68},{"x":8.1,"y":-0.8},{"x":8.1,"y":-0.92},{"x":8.1,"y":-1.04},{"x":8.1,"y":-1.16},{"x":8.1,"y":-1.28},{"x":8.1,"y":-1.4},{"x":8.1,"y":-1.52},{"x":8.1,"y":-1.64},{"x":8.1,"y":-1.76},{"x":8.1,"y":-1.88},{"x":8.1,"y":-2.0},{"x":8.1,"y":-2.12},{"x":8.1,"y":-2.24},{"x":8.1,"y":-2.36},{"x":8.1,"y":-2.48},{"x":8.1,"y":-2.6},{"x":8.1,"y":-2.72},{"x":8.1,"y":-2.84},{"x":8.1,"y":-2.96},{"x":8.1,"y":-3.08},{"x":8.1,"y":-3.2},{"x":8.1,"y":-3.32},{"x":8.1,"y":-3.44},{"x":8.1,"y":-3.56},{"x":8.1,"y":-3.68},{"x":8.1,"y":-3.8},{"x":8.1,"y":-3.92},
{"x":8.17,"y":-0.8},{"x":8.17,"y":-1.05},{"x":8.17,"y":-1.3},{"x":8.17,"y":-1.55},{"x":8.17,"y":-1.8},{"x":8.17,"y":-2.05},{"x":8.17,"y":-2.3},{"x":8.17,"y":-2.55},
{"x":8.24,"y":2.1},{"x":8.24,"y":1.95},{"x":8.24,"y":-1.0},{"x":8.24,"y":-1.1},{"x":8.24,"y":-1.2},{"x":8.24,"y":-1.3},{"x":8.24,"y":-1.4},{"x":8.24,"y":-1.5},{"x":8.24,"y":-1.6},{"x":8.24,"y":-1.7},{"x":8.24,"y":-1.8},{"x":8.24,"y":-1.9},{"x":8.24,"y":-2.0},{"x":8.24,"y":-2.1},{"x":8.24,"y":-2.2},{"x":8.24,"y":-2.3},{"x":8.24,"y":-2.4},{"x":8.24,"y":-2.5},{"x":8.24,"y":-2.6},{"x":8.24,"y":-2.7},{"x":8.24,"y":-2.8},{"x":8.24,"y":-2.9},{"x":8.24,"y":-3.0},{"x":8.24,"y":-3.1},{"x":8.24,"y":-3.2},{"x":8.24,"y":-3.3},{"x":8.24,"y":-3.4},{"x":8.24,"y":-3.5},{"x":8.24,"y":-3.6},{"x":8.24,"y":-3.7},{"x":8.24,"y":-3.8},{"x":8.24,"y":-3.9},{"x":8.24,"y":-4.0},{"x":8.24,"y":-4.1},{"x":8.24,"y":-4.2},{"x":8.24,"y":-4.3},{"x":8.24,"y":-4.4},{"x":8.24,"y":-4.5},{"x":8.24,"y":-4.6},{"x":8.24,"y":-4.7},{"x":8.24,"y":-4.8},{"x":8.24,"y":-4.9},{"x":8.24,"y":-5.0},{"x":8.24,"y":-5.1},{"x":8.24,"y":-5.2},{"x":8.24,"y":-5.3},{"x":8.24,"y":-5.4},{"x":8.24,"y":-5.5},{"x":8.24,"y":-6.23},{"x":8.24,"y":-7.08},
{"x":8.27,"y":-1.05},{"x":8.27,"y":-1.15},{"x":8.27,"y":-1.25},{"x":8.27,"y":-1.35},{"x":8.27,"y":-1.45},{"x":8.27,"y":-1.55},{"x":8.27,"y":-1.65},{"x":8.27,"y":-1.75},{"x":8.27,"y":-1.85},{"x":8.27,"y":-1.95},{"x":8.27,"y":-2.05},{"x":8.27,"y":-2.15},{"x":8.27,"y":-2.25},{"x":8.27,"y":-2.35},{"x":8.27,"y":-2.45},{"x":8.27,"y":-2.55},{"x":8.27,"y":-2.65},{"x":8.27,"y":-2.75},{"x":8.27,"y":-2.85},{"x":8.27,"y":-2.95},{"x":8.27,"y":-3.05},{"x":8.27,"y":-3.15},{"x":8.27,"y":-3.25},{"x":8.27,"y":-3.35},{"x":8.27,"y":-3.45},{"x":8.27,"y":-3.55},{"x":8.27,"y":-3.65},{"x":8.27,"y":-3.75},{"x":8.27,"y":-3.85},{"x":8.27,"y":-3.95},{"x":8.27,"y":-4.05},{"x":8.27,"y":-4.15},{"x":8.27,"y":-4.25},{"x":8.27,"y":-4.35},{"x":8.27,"y":-4.45},{"x":8.27,"y":-4.55},{"x":8.27,"y":-4.65},{"x":8.27,"y":-4.75},{"x":8.27,"y":-4.85},{"x":8.27,"y":-4.95},{"x":8.27,"y":-5.05},{"x":8.27,"y":-5.15},{"x":8.27,"y":-5.25},{"x":8.27,"y":-5.35},{"x":8.27,"y":-5.45},
{"x":8.4,"y":0.31},{"x":8.4,"y":-0.37},{"x":8.4,"y":-0.49},{"x":8.4,"y":-0.61},{"x":8.4,"y":-0.73},{"x":8.4,"y":-0.85},{"x":8.4,"y":-0.97},{"x":8.4,"y":-1.09},{"x":8.4,"y":-1.21},{"x":8.4,"y":-1.33},{"x":8.4,"y":-1.45},{"x":8.4,"y":-1.57},{"x":8.4,"y":-1.69},{"x":8.4,"y":-1.81},{"x":8.4,"y":-1.93},{"x":8.4,"y":-2.05},{"x":8.4,"y":-2.17},{"x":8.4,"y":-2.29},{"x":8.4,"y":-2.41},
{"x":8.52,"y":-1.0},{"x":8.52,"y":-1.2},{"x":8.52,"y":-1.4},{"x":8.52,"y":-1.6},{"x":8.52,"y":-2.0},{"x":8.52,"y":-2.3},
{"x":8.59,"y":-0.2},{"x":8.59,"y":-0.58},{"x":8.59,"y":-0.88},{"x":8.59,"y":-4.07},
{"x":8.65,"y":-1.0},{"x":8.65,"y":-1.5},{"x":8.65,"y":-2.0},{"x":8.65,"y":-2.2},
{"x":8.77,"y":0.68},{"x":8.77,"y":0.42},{"x":8.77,"y":-3.25},{"x":8.77,"y":-3.55},{"x":8.77,"y":-7.8},
{"x":8.85,"y":-0.5},{"x":8.85,"y":-0.75},{"x":8.85,"y":-1.0},{"x":8.85,"y":-2.4},{"x":8.85,"y":-2.6},{"x":8.85,"y":-2.8},{"x":8.85,"y":-2.95},
{"x":8.89,"y":-5.3},{"x":8.89,"y":-5.52},{"x":8.89,"y":-5.78},{"x":8.89,"y":-6.2},
{"x":9.02,"y":-5.78},{"x":9.02,"y":-1.6},{"x":9.02,"y":-2.0},
{"x":9.11,"y":-0.36},{"x":9.11,"y":-1.1},{"x":9.11,"y":-1.2},{"x":9.11,"y":-1.3},{"x":9.11,"y":-1.4},{"x":9.11,"y":-1.5},{"x":9.11,"y":-1.6},{"x":9.11,"y":-1.7},{"x":9.11,"y":-1.8},{"x":9.11,"y":-1.9},{"x":9.11,"y":-2.0},{"x":9.11,"y":-2.1},{"x":9.11,"y":-2.2},{"x":9.11,"y":-2.3},{"x":9.11,"y":-2.4},{"x":9.11,"y":-2.5},{"x":9.11,"y":-2.6},{"x":9.11,"y":-2.7},{"x":9.11,"y":-2.8},{"x":9.11,"y":-2.9},{"x":9.11,"y":-3.0},{"x":9.11,"y":-3.65},{"x":9.11,"y":-3.9},
{"x":9.14,"y":-1.15},{"x":9.14,"y":-1.25},{"x":9.14,"y":-1.35},{"x":9.14,"y":-1.45},{"x":9.14,"y":-1.55},{"x":9.14,"y":-1.65},{"x":9.14,"y":-1.75},{"x":9.14,"y":-1.85},{"x":9.14,"y":-1.95},{"x":9.14,"y":-2.05},{"x":9.14,"y":-2.15},{"x":9.14,"y":-2.25},{"x":9.14,"y":-2.35},{"x":9.14,"y":-2.45},{"x":9.14,"y":-2.55},{"x":9.14,"y":-2.65},{"x":9.14,"y":-2.75},{"x":9.14,"y":-2.85},{"x":9.14,"y":-2.95},
{"x":9.21,"y":2.7},{"x":9.21,"y":0.7},
{"x":9.29,"y":-0.12}
],
"lines":[
{"kind":"fit","x":2.01,"y":-0.26},{"kind":"fit","x":9.55,"y":-2.62},
{"kind":"cu","x":2.28,"y":-0.235},{"kind":"cu","x":3,"y":-0.47},{"kind":"cu","x":4,"y":-0.818},{"kind":"cu","x":5,"y":-1.156},{"kind":"cu","x":6,"y":-1.474},{"kind":"cu","x":7,"y":-1.777},{"kind":"cu","x":8,"y":-2.07},{"kind":"cu","x":9.29,"y":-2.439},
{"kind":"cl","x":2.28,"y":-0.455},{"kind":"cl","x":3,"y":-0.67},{"kind":"cl","x":4,"y":-0.948},{"kind":"cl","x":5,"y":-1.236},{"kind":"cl","x":6,"y":-1.544},{"kind":"cl","x":7,"y":-1.867},{"kind":"cl","x":8,"y":-2.2},{"kind":"cl","x":9.29,"y":-2.639},
{"kind":"pu","x":2.28,"y":2.06},{"kind":"pu","x":5.8,"y":0.96},{"kind":"pu","x":9.29,"y":-0.1},
{"kind":"pl","x":2.28,"y":-2.8},{"kind":"pl","x":5.8,"y":-3.86},{"kind":"pl","x":9.29,"y":-5.0}
]
},
"layer":[
{"data":{"name":"pts"},
 "mark":{"type":"point","shape":"M-1,0A1,0.75,0,1,0,1,0A1,0.75,0,1,0,-1,0Z","size":24,"filled":false,"stroke":"#000","strokeWidth":1.35,"opacity":1},
 "encoding":{
  "x":{"field":"x","type":"quantitative","scale":{"domain":[2.01,9.55],"nice":false,"zero":false},
   "axis":{"values":[3,4,5,6,7,8,9],"grid":false,"domainColor":"#111","tickColor":"#111","tickSize":6,"labelFontSize":15,"labelColor":"#222","labelBaseline":"alphabetic","labelPadding":19,"labelFont":"Liberation Sans","title":"Log of dataset size","titleFontSize":18,"titleFontWeight":"normal","titleColor":"#222","titleFont":"Liberation Sans","titleBaseline":"alphabetic","titleY":55}},
  "y":{"field":"y","type":"quantitative","scale":{"domain":[-8.31,6.06],"nice":false,"zero":false},
   "axis":{"values":[-8,-6,-4,-2,0,2,4,6],"grid":false,"domainColor":"#111","tickColor":"#111","tickSize":6,"labelFontSize":15,"labelColor":"#222","labelAlign":"center","labelBaseline":"middle","labelPadding":16,"labelFont":"Liberation Sans","title":"Logit of error rate","titleFontSize":18,"titleFontWeight":"normal","titleColor":"#222","titleFont":"Liberation Sans","titleAngle":-90,"titleAlign":"center","titleBaseline":"alphabetic","titleX":-47,"titleY":192.5}}
 }},
{"data":{"name":"lines"},"transform":[{"filter":"datum.kind==='pu'||datum.kind==='pl'"}],
 "mark":{"type":"line","stroke":"#555","strokeWidth":1,"strokeDash":[1.2,2.2]},
 "encoding":{"x":{"field":"x","type":"quantitative"},"y":{"field":"y","type":"quantitative"},"detail":{"field":"kind"}}},
{"data":{"name":"lines"},"transform":[{"filter":"datum.kind==='cu'||datum.kind==='cl'"}],
 "mark":{"type":"line","stroke":"#333","strokeWidth":1,"strokeDash":[3,2]},
 "encoding":{"x":{"field":"x","type":"quantitative"},"y":{"field":"y","type":"quantitative"},"detail":{"field":"kind"}}},
{"data":{"name":"lines"},"transform":[{"filter":"datum.kind==='fit'"}],
 "mark":{"type":"line","stroke":"#111","strokeWidth":1},
 "encoding":{"x":{"field":"x","type":"quantitative"},"y":{"field":"y","type":"quantitative"}}},
{"mark":{"type":"rule","stroke":"#111","strokeWidth":1},
 "encoding":{"y":{"datum":6.06,"type":"quantitative"}}}
]
}
